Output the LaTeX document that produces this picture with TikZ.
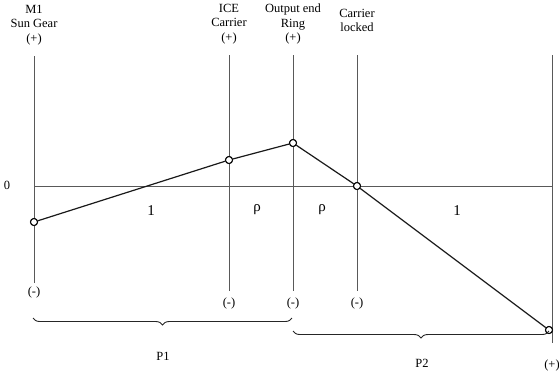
\documentclass[tikz,border=0pt]{standalone}
\usepackage{fontspec}
\setmainfont{Liberation Serif}
\usetikzlibrary{decorations.pathreplacing}
\begin{document}
\begin{tikzpicture}[x=1pt,y=1pt,
  axisline/.style={draw=black!65, line width=0.9pt},
  plotline/.style={draw=black!90, line width=1.2pt},
  pt/.style={circle, draw=black, fill=white, line width=1pt, inner sep=0pt, minimum size=7pt},
  lbl/.style={font=\fontsize{12.5}{14.5}\selectfont, align=center, inner sep=0pt},
  biglbl/.style={font=\fontsize{15}{17}\selectfont, inner sep=0pt},
  bracestyle/.style={draw=black!85, line width=0.9pt, decorate, decoration={brace, mirror, amplitude=7pt}}]
\useasboundingbox (0,0) rectangle (559,-373);
% vertical axes
\coordinate (aT) at (34,-56);   \coordinate (aB) at (34,-283);
\coordinate (bT) at (229,-55);  \coordinate (bB) at (229,-291);
\coordinate (cT) at (293,-55);  \coordinate (cB) at (293,-291);
\coordinate (dT) at (357,-55);  \coordinate (dB) at (357,-291);
\coordinate (eT) at (552,-55);  \coordinate (eB) at (552,-343);
\coordinate (hL) at (34,-186);  \coordinate (hR) at (552,-186);
\draw[axisline] (aT) -- (aB);
\draw[axisline] (bT) -- (bB);
\draw[axisline] (cT) -- (cB);
\draw[axisline] (dT) -- (dB);
\draw[axisline] (eT) -- (eB);
\draw[axisline] (hL) -- (hR);
% top labels
\node[lbl, anchor=north] (la) at (34,-5) {M1\\Sun Gear\\(+)};
\node[lbl, anchor=north] (lb) at (229,-4) {ICE\\Carrier\\(+)};
\node[lbl, anchor=north] (lc) at (293,-4) {Output end\\Ring\\(+)};
\node[lbl, anchor=north] (ld) at (357,-9) {Carrier\\locked};
\node[lbl] (zero) at (7,-185) {0};
% bottom labels
\node[lbl] (ma) at (34,-292) {(-)};
\node[lbl] (mb) at (229,-303) {(-)};
\node[lbl] (mc) at (293,-303) {(-)};
\node[lbl] (md) at (357,-303) {(-)};
\node[lbl] (pe) at (552,-365) {(+)};
% segment labels
\node[biglbl] (s1) at (151,-211) {1};
\node[biglbl] (s2) at (257,-210) {ρ};
\node[biglbl] (s3) at (322,-210) {ρ};
\node[biglbl] (s4) at (457,-211) {1};
% plot line
\node[pt] (p1) at (34,-222) {};
\node[pt] (p2) at (229,-160) {};
\node[pt] (p3) at (293,-143) {};
\node[pt] (p4) at (357,-186) {};
\node[pt] (p5) at (549,-330) {};
\draw[plotline] (p1) -- (p2) -- (p3) -- (p4) -- (p5);
\node[pt] at (p1) {};
\node[pt] at (p2) {};
\node[pt] at (p3) {};
\node[pt] at (p4) {};
\node[pt] at (p5) {};
% braces
\coordinate (b1L) at (33,-318);  \coordinate (b1R) at (292,-318);
\coordinate (b2L) at (293,-331); \coordinate (b2R) at (549,-331);
\draw[bracestyle] (b1L) -- (b1R);
\draw[bracestyle] (b2L) -- (b2R);
\node[lbl] (P1) at (163,-356) {P1};
\node[lbl] (P2) at (422,-363) {P2};
\end{tikzpicture}
\end{document}
